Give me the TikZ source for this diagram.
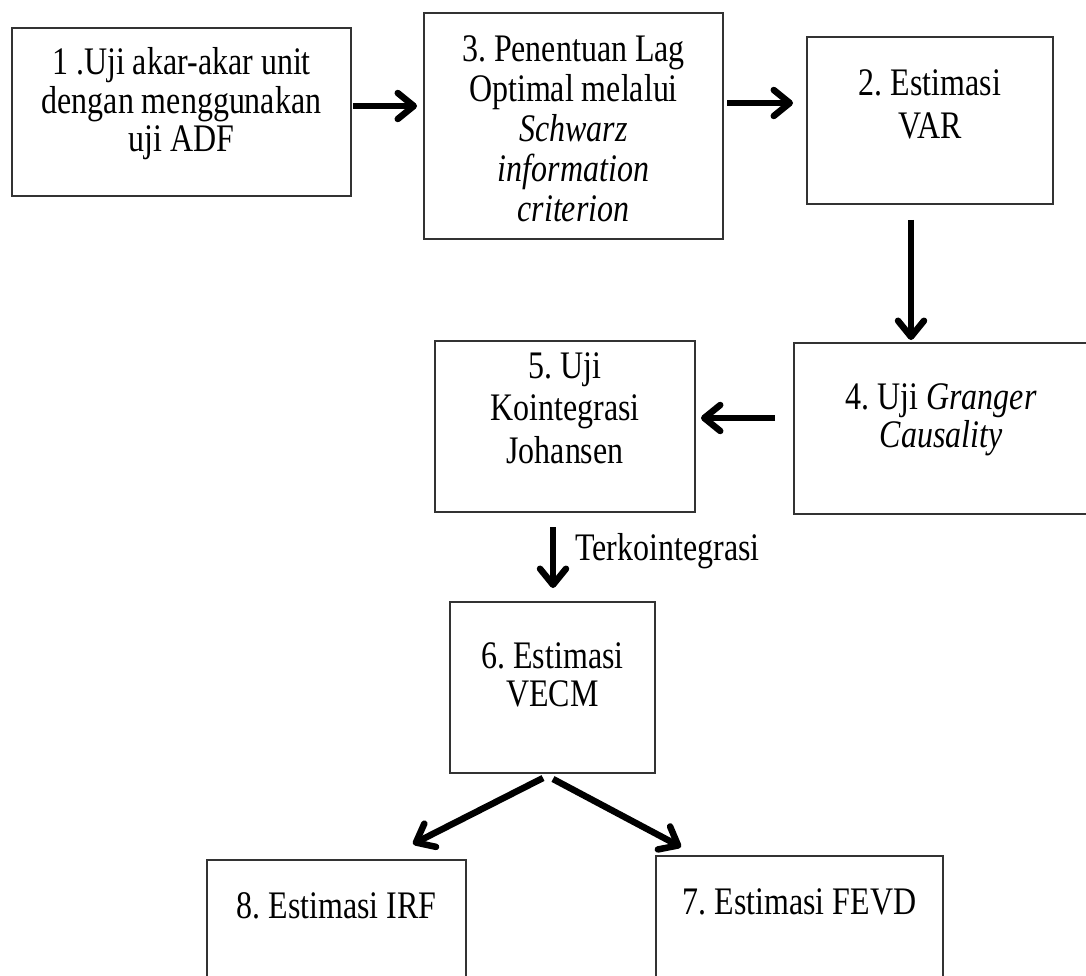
\documentclass[tikz,border=0pt]{standalone}
\usepackage{fontspec}
\setmainfont{Liberation Serif}[FakeStretch=0.82, WordSpace={1,0,0}]
\usepackage{tikz}
\usetikzlibrary{arrows.meta}
\tikzset{
  stepbox/.style={draw=black!80, line width=1.2pt, inner sep=0pt, outer sep=0pt, align=flush center, anchor=north west, font=\fontsize{39pt}{38.5pt}\selectfont},
  arr/.style={-{Straight Barb[length=16pt,width=26pt,round]}, line width=6.5pt},
  lbl/.style={font=\fontsize{39pt}{38.5pt}\selectfont, inner sep=0pt}
}
\frenchspacing

\begin{document}
\begin{tikzpicture}[x=1pt, y=-1pt]
\useasboundingbox (0,0) rectangle (1086,976);
\node[stepbox, text width=339pt, text height=47pt, text depth=121pt] (uji) at (12,28) {1 .Uji akar-akar unit\\dengan menggunakan\\uji ADF};
\node[stepbox, text width=299pt, text height=49pt, text depth=177pt] (lag) at (424,13) {3. Penentuan Lag\\[1.5pt]Optimal melalui\\[1.5pt]\textit{Schwarz}\\[1.5pt]\textit{information}\\[1.5pt]\textit{criterion}};
\node[stepbox, text width=246pt, text height=59pt, text depth=108pt] (var) at (807,37) {2. Estimasi\\[4.5pt]VAR};
\node[stepbox, text width=294pt, text height=66pt, text depth=105pt] (granger) at (794,343) {4. Uji \textit{Granger}\\\textit{Causality}};
\node[stepbox, text width=260pt, text height=37pt, text depth=134pt] (johansen) at (435,341) {5. Uji\\[4pt]Kointegrasi\\[4pt]Johansen};
\node[stepbox, text width=205pt, text height=66pt, text depth=105pt] (vecm) at (450,602) {6. Estimasi\\VECM};
\node[stepbox, text width=259pt, text height=58pt, text depth=72pt] (irf) at (207,860) {8. Estimasi IRF};
\node[stepbox, text width=287pt, text height=58pt, text depth=76pt] (fevd) at (656,856) {7. Estimasi FEVD};

\draw[arr, shorten <=2pt, shorten >=7pt] ([yshift=6pt]uji.east) -- ([yshift=20pt]lag.west);
\draw[arr, shorten <=4pt, shorten >=14pt] ([yshift=23pt]lag.east) -- ([yshift=17.5pt]var.west);
\draw[arr, shorten <=16pt, shorten >=3pt] ([xshift=-19pt]var.south) -- ([xshift=-30pt]granger.north);
\draw[arr, shorten <=19pt, shorten >=6pt] ([yshift=10.5pt]granger.west) -- ([yshift=8.5pt]johansen.east);
\draw[arr, shorten <=15pt, shorten >=14pt] ([xshift=-12pt]johansen.south) -- node[lbl, right, xshift=19pt, yshift=6pt]{Terkointegrasi} ([xshift=0.5pt]vecm.north);
\draw[arr] ([xshift=-9.5pt,yshift=-5pt]vecm.south) -- ([xshift=76.5pt,yshift=16pt]irf.north);
\draw[arr] ([xshift=0.5pt,yshift=-6pt]vecm.south) -- ([xshift=-118.5pt,yshift=9pt]fevd.north);
\end{tikzpicture}
\end{document}
